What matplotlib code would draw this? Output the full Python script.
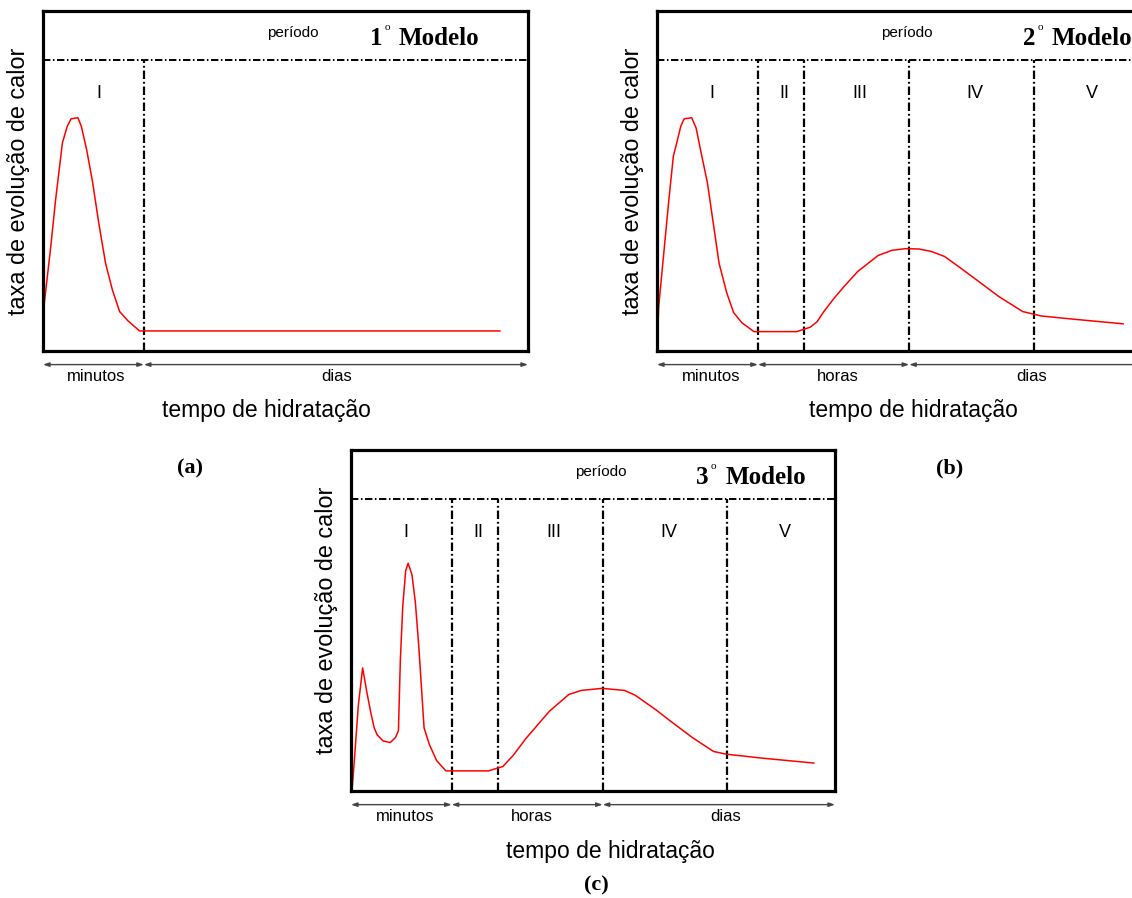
import matplotlib
matplotlib.use("Agg")
import matplotlib.pyplot as plt

plt.rcParams['font.family'] = ['Liberation Sans', 'DejaVu Sans']

# ---------------- data (percent of box width / height) ----------------
a_x = [0.1, 1.6, 2.6, 4.0, 5.0, 5.8, 7.2, 7.9, 9.0, 10.2, 11.5, 12.9, 14.3, 15.8, 17.5, 19.9, 94.2]
a_y = [12.0, 30.7, 44.5, 61.2, 66.1, 68.3, 68.6, 66.1, 59.2, 49.9, 37.6, 25.8, 18.0, 11.6, 8.9, 5.9, 5.9]

b_x = [0.0, 0.35, 1.4, 2.45, 3.37, 4.07, 4.9, 5.6, 7.15, 8.06, 9.1, 10.4, 11.6, 12.8, 14.4, 15.8,
       17.5, 20.0, 28.8, 31.6, 33.0, 34.4, 36.5, 38.9, 41.4, 45.6, 48.4, 51.2, 54.0, 56.5, 59.3,
       62.4, 65.9, 70.5, 75.4, 79.2, 86.3, 96.1]
b_y = [0.0, 13.1, 28.8, 44.5, 57.3, 61.2, 66.1, 68.3, 68.6, 65.6, 58.3, 49.4, 37.6, 25.8, 17.0, 11.3,
       8.3, 5.7, 5.7, 7.0, 8.6, 11.6, 15.5, 19.5, 23.4, 28.1, 29.6, 30.1, 30.0, 29.3, 27.8,
       24.6, 20.9, 16.0, 11.6, 10.3, 9.3, 8.0]

c_x = [0.2, 0.7, 1.5, 2.4, 3.3, 4.1, 4.8, 5.4, 6.6, 8.1, 9.2, 9.8, 10.2, 10.7, 11.3, 11.8, 12.6,
       13.3, 14.0, 15.1, 16.2, 17.7, 19.6, 28.4, 31.4, 33.6, 36.2, 41.0, 45.0, 47.6, 51.9, 56.5,
       58.7, 63.1, 66.1, 70.5, 74.9, 77.5, 85.2, 95.6]
c_y = [0.0, 9.1, 24.9, 36.1, 28.8, 22.9, 18.5, 16.5, 14.7, 14.2, 15.7, 17.7, 38.6, 54.3, 64.6, 66.8,
       63.4, 55.3, 42.5, 18.5, 13.6, 8.9, 5.9, 5.9, 7.2, 10.6, 15.5, 23.4, 28.3, 29.5, 30.1, 29.5,
       28.1, 23.7, 20.4, 15.7, 11.6, 10.8, 9.6, 8.2]

dividers_a = [20.8]
dividers_bc = [20.8, 30.4, 52.0, 77.7]

roman_a = ["I"]
roman_a_x = [11.5]
roman_bc = ["I", "II", "III", "IV", "V"]
roman_bc_x = [11.3, 26.3, 41.9, 65.6, 89.6]

spans_a = [(0, 20.8), (20.8, 100)]
span_labels_a = ["minutos", "dias"]
span_label_x_a = [10.9, 60.6]

spans_bc = [(0, 20.8), (20.8, 52.0), (52.0, 100)]
span_labels_bc = ["minutos", "horas", "dias"]
span_label_x_bc = [11.2, 37.3, 77.3]

model_numbers = ["1", "2", "3"]
model_title_x = [67.4, 75.4, 71.3]
xlabel_x = [46.0, 52.8, 53.6]

W, H = 1132, 898
fig = plt.figure(figsize=(W / 100, H / 100), dpi=100)


def px_axes(l, t, r, b):
    return fig.add_axes([l / W, 1 - b / H, (r - l) / W, (b - t) / H])


HEADER_Y = 85.7
DASHDOT = (0, (3.8, 1.3, 0.8, 1.3))


def draw_panel(ax, xs, ys, dividers, romans, roman_x, spans, span_labels, span_x,
               num, title_x, xl_x):
    ax.set_xlim(0, 100)
    ax.set_ylim(0, 100)
    ax.set_xticks([])
    ax.set_yticks([])
    for s in ax.spines.values():
        s.set_linewidth(2.3)
        s.set_color('black')
        s.set_clip_on(False)
    # header line
    ax.plot([0, 100], [HEADER_Y, HEADER_Y], color='black', lw=1.4, linestyle=DASHDOT,
            clip_on=False)
    for d in dividers:
        ax.plot([d, d], [0, HEADER_Y], color='black', lw=1.6, linestyle=DASHDOT)
    # curve
    ax.plot(xs, ys, color='#ff0000', lw=1.1)
    # roman labels
    for r, rx in zip(romans, roman_x):
        ax.text(rx, 75.8, r, ha='center', va='center', fontsize=13)
    ax.text(51.6, 93.6, "período", ha='center', va='center', fontsize=11)
    # model title
    t1 = ax.text(title_x, 91.8, num, ha='left', va='center', fontsize=18,
                 family='Liberation Serif', fontweight='bold', clip_on=False)
    ax.annotate("o", xy=(1, 1), xycoords=t1, xytext=(1.5, 3), textcoords='offset points',
                ha='left', va='top', fontsize=8, family='Liberation Serif',
                annotation_clip=False)
    ax.annotate("Modelo", xy=(1, 0), xycoords=t1, xytext=(12, 0), textcoords='offset points',
                ha='left', va='bottom', fontsize=18, family='Liberation Serif',
                fontweight='bold', annotation_clip=False)
    # bottom spans
    for (x0, x1), lab, lx in zip(spans, span_labels, span_x):
        ax.annotate('', xy=(x1, -4.0), xytext=(x0, -4.0), xycoords='data',
                    arrowprops=dict(arrowstyle='<|-|>,head_length=0.35,head_width=0.12',
                                    lw=1.0, color='#444444', shrinkA=0, shrinkB=0),
                    annotation_clip=False)
        ax.text(lx, -7.6, lab, ha='center', va='center', fontsize=12, clip_on=False)
    ax.text(xl_x, -17.6, "tempo de hidratação", ha='center', va='center', fontsize=16.5,
            clip_on=False)
    ax.text(-5.0, 50.0, "taxa de evolução de calor", ha='center', va='center', rotation=90,
            fontsize=16.8, clip_on=False)


ax_a = px_axes(43, 11, 528, 351)
draw_panel(ax_a, a_x, a_y, dividers_a, roman_a, roman_a_x, spans_a, span_labels_a,
           span_label_x_a, model_numbers[0], model_title_x[0], xlabel_x[0])

ax_b = px_axes(657, 11, 1142, 351)
draw_panel(ax_b, b_x, b_y, dividers_bc, roman_bc, roman_bc_x, spans_bc, span_labels_bc,
           span_label_x_bc, model_numbers[1], model_title_x[1], xlabel_x[1])

ax_c = px_axes(351, 450, 835, 791)
draw_panel(ax_c, c_x, c_y, dividers_bc, roman_bc, roman_bc_x, spans_bc, span_labels_bc,
           span_label_x_bc, model_numbers[2], model_title_x[2], xlabel_x[2])

fig.text(190 / W, 1 - 468 / H, "(a)", ha='center', va='center', fontsize=16,
         family='Liberation Serif', fontweight='bold')
fig.text(950 / W, 1 - 468 / H, "(b)", ha='center', va='center', fontsize=16,
         family='Liberation Serif', fontweight='bold')
ax_c.text(50.6, -27.8, "(c)", ha='center', va='center', fontsize=16,
          family='Liberation Serif', fontweight='bold', clip_on=False)

fig.savefig("out.png", dpi=100)
